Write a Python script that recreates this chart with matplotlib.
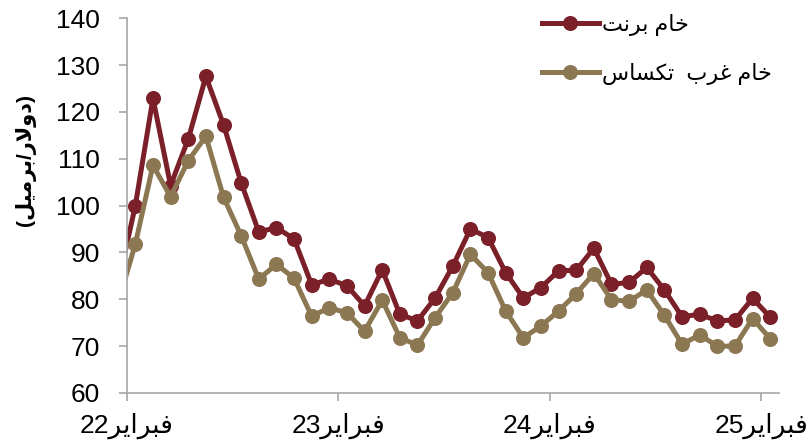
import re
import matplotlib
matplotlib.use("Agg")
import matplotlib.pyplot as plt

# ---------------- data ----------------
months_idx = list(range(-1, 37))          # Jan-22 (clipped) .. Feb-25
brent = [83.0, 100.0, 122.9, 104.3, 114.2, 127.6, 117.3, 104.9, 94.4, 95.3, 92.9,
         83.1, 84.3, 82.9, 78.6, 86.3, 76.8, 75.4, 80.3, 87.1, 95.0, 93.2,
         85.7, 80.3, 82.5, 86.1, 86.2, 90.9, 83.2, 83.6, 86.8, 82.0, 76.3,
         76.8, 75.4, 75.6, 80.2, 76.2]
wti = [79.0, 91.8, 108.6, 101.9, 109.6, 114.8, 101.8, 93.6, 84.3, 87.5, 84.5,
       76.4, 78.2, 77.1, 73.2, 79.8, 71.8, 70.2, 76.1, 81.4, 89.6, 85.7,
       77.5, 71.8, 74.3, 77.5, 81.2, 85.5, 79.9, 79.6, 82.0, 76.6, 70.4,
       72.4, 70.0, 70.0, 75.9, 71.6]
series_names = ["خام برنت", "خام غرب  تكساس"]
y_label = "(دولار/برميل)"
x_tick_pos = [0, 12, 24, 36]
x_tick_labels = ["فبراير22", "فبراير23", "فبراير24", "فبراير25"]
y_ticks = [60, 70, 80, 90, 100, 110, 120, 130, 140]

# ---------------- minimal Arabic shaping (display only) ----------------
AR = {
    '\u0627': ('\uFE8D', '\uFE8E', None, None),
    '\u0628': ('\uFE8F', '\uFE90', '\uFE91', '\uFE92'),
    '\u062A': ('\uFE95', '\uFE96', '\uFE97', '\uFE98'),
    '\u062E': ('\uFEA5', '\uFEA6', '\uFEA7', '\uFEA8'),
    '\u062F': ('\uFEA9', '\uFEAA', None, None),
    '\u0631': ('\uFEAD', '\uFEAE', None, None),
    '\u0633': ('\uFEB1', '\uFEB2', '\uFEB3', '\uFEB4'),
    '\u063A': ('\uFECD', '\uFECE', '\uFECF', '\uFED0'),
    '\u0641': ('\uFED1', '\uFED2', '\uFED3', '\uFED4'),
    '\u0643': ('\uFED9', '\uFEDA', '\uFEDB', '\uFEDC'),
    '\u0644': ('\uFEDD', '\uFEDE', '\uFEDF', '\uFEE0'),
    '\u0645': ('\uFEE1', '\uFEE2', '\uFEE3', '\uFEE4'),
    '\u0646': ('\uFEE5', '\uFEE6', '\uFEE7', '\uFEE8'),
    '\u0648': ('\uFEED', '\uFEEE', None, None),
    '\u064A': ('\uFEF1', '\uFEF2', '\uFEF3', '\uFEF4'),
}


def _dual(c):
    return c in AR and AR[c][2] is not None


def _shape(s):
    out, i, n = [], 0, len(s)
    while i < n:
        c = s[i]
        jp = i > 0 and _dual(s[i - 1])
        if c == '\u0644' and i + 1 < n and s[i + 1] == '\u0627':
            out.append('\uFEFC' if jp else '\uFEFB')
            i += 2
            continue
        if c not in AR:
            out.append(c)
            i += 1
            continue
        jn = _dual(c) and i + 1 < n and s[i + 1] in AR
        iso, fin, ini, med = AR[c]
        out.append(med if (jp and jn) else fin if jp else ini if jn else iso)
        i += 1
    return ''.join(out)


def ar(s):
    shaped = _shape(s)
    tokens = re.findall(r'[0-9]+|[^0-9]+', shaped)
    vis = []
    for t in reversed(tokens):
        if t[0].isdigit():
            vis.append(t)
        else:
            r = t[::-1]
            r = r.translate(str.maketrans({'(': ')', ')': '('}))
            vis.append(r)
    return ''.join(vis)


# ---------------- plot ----------------
FAM = ['Liberation Sans', 'DejaVu Sans']
plt.rcParams['font.family'] = FAM

RED = '#7B1F28'
TAN = '#8C7753'
GRID = '#A6A6A6'

fig = plt.figure(figsize=(8.12, 4.48), dpi=100)
ax = fig.add_axes([0.1558, 0.1228, 0.8036, 0.8363])

x = [m + 0.5 for m in months_idx]
ax.plot(x, brent, color=RED, lw=3.6, marker='o', ms=9.8, label=ar(series_names[0]))
ax.plot(x, wti, color=TAN, lw=3.6, marker='o', ms=9.8, label=ar(series_names[1]))

ax.set_xlim(0, 37)
ax.set_ylim(60, 140)
ax.set_yticks(y_ticks)
ax.set_yticklabels([str(v) for v in y_ticks], fontsize=19)
ax.set_xticks(x_tick_pos)
ax.set_xticklabels([ar(t) for t in x_tick_labels], fontsize=19)

for s in ['top', 'right']:
    ax.spines[s].set_visible(False)
for s in ['left', 'bottom']:
    ax.spines[s].set_color(GRID)
    ax.spines[s].set_linewidth(1.2)
ax.tick_params(axis='y', length=6, width=1.2, color=GRID, pad=13)
ax.tick_params(axis='x', length=6, width=1.2, color=GRID, pad=8)

fig.text(0.031, 1 - 160 / 448, ar(y_label), rotation=90, fontsize=15,
         fontweight='bold', ha='center', va='center')

leg = ax.legend(loc='upper left', bbox_to_anchor=(542 / 812, 1 - 14 / 448),
                bbox_transform=fig.transFigure, frameon=False, fontsize=16,
                handlelength=2.55, handletextpad=0.15, labelspacing=1.2,
                borderpad=0, borderaxespad=0)

fig.savefig('out.png', dpi=100)
